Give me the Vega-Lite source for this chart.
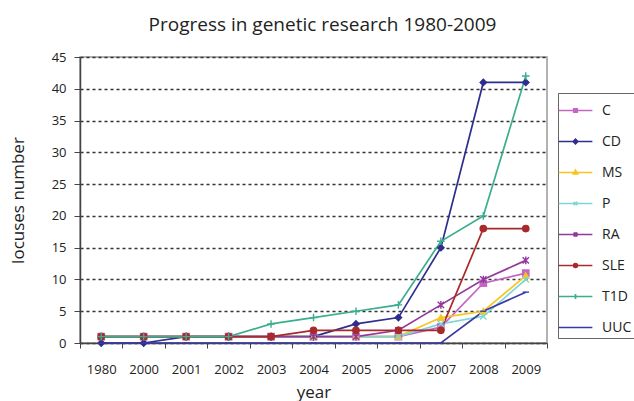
{
  "$schema": "https://vega.github.io/schema/vega-lite/v6.json",
  "width": 467,
  "height": 286,
  "autosize": "none",
  "padding": {"left": 80, "top": 57, "right": 87, "bottom": 58},
  "background": "white",
  "title": {"text": "Progress in genetic research 1980-2009", "fontSize": 19, "font": "Open Sans", "fontWeight": "normal", "color": "#222", "anchor": "middle", "offset": 16, "dx": 9},
  "config": {
    "font": "Open Sans",
    "view": {"stroke": "#999", "strokeWidth": 1.5},
    "axis": {"labelFont": "Open Sans", "titleFont": "Open Sans", "labelFontSize": 13, "titleFontSize": 17, "titleFontWeight": "normal", "labelColor": "#222", "titleColor": "#222", "domainColor": "#444", "tickColor": "#444", "domainWidth": 1.5},
    "point": {"filled": true, "size": 40, "opacity": 1, "strokeWidth": 1.4}
  },
  "data": {"values": [
    {"year": "1980", "disease": "C", "value": 1}, {"year": "2000", "disease": "C", "value": 1}, {"year": "2001", "disease": "C", "value": 1}, {"year": "2002", "disease": "C", "value": 1}, {"year": "2003", "disease": "C", "value": 1}, {"year": "2004", "disease": "C", "value": 1}, {"year": "2005", "disease": "C", "value": 1}, {"year": "2006", "disease": "C", "value": 1}, {"year": "2007", "disease": "C", "value": 2.5}, {"year": "2008", "disease": "C", "value": 9.4}, {"year": "2009", "disease": "C", "value": 11},
    {"year": "1980", "disease": "CD", "value": 0}, {"year": "2000", "disease": "CD", "value": 0}, {"year": "2001", "disease": "CD", "value": 1}, {"year": "2002", "disease": "CD", "value": 1}, {"year": "2003", "disease": "CD", "value": 1}, {"year": "2004", "disease": "CD", "value": 1}, {"year": "2005", "disease": "CD", "value": 3}, {"year": "2006", "disease": "CD", "value": 4}, {"year": "2007", "disease": "CD", "value": 15}, {"year": "2008", "disease": "CD", "value": 41}, {"year": "2009", "disease": "CD", "value": 41},
    {"year": "1980", "disease": "MS", "value": 1}, {"year": "2000", "disease": "MS", "value": 1}, {"year": "2001", "disease": "MS", "value": 1}, {"year": "2002", "disease": "MS", "value": 1}, {"year": "2003", "disease": "MS", "value": 1}, {"year": "2004", "disease": "MS", "value": 1}, {"year": "2005", "disease": "MS", "value": 1}, {"year": "2006", "disease": "MS", "value": 1}, {"year": "2007", "disease": "MS", "value": 4}, {"year": "2008", "disease": "MS", "value": 5}, {"year": "2009", "disease": "MS", "value": 10.6},
    {"year": "1980", "disease": "P", "value": 1}, {"year": "2000", "disease": "P", "value": 1}, {"year": "2001", "disease": "P", "value": 1}, {"year": "2002", "disease": "P", "value": 1}, {"year": "2003", "disease": "P", "value": 1}, {"year": "2004", "disease": "P", "value": 1}, {"year": "2005", "disease": "P", "value": 1}, {"year": "2006", "disease": "P", "value": 1}, {"year": "2007", "disease": "P", "value": 3}, {"year": "2008", "disease": "P", "value": 4.2}, {"year": "2009", "disease": "P", "value": 10},
    {"year": "1980", "disease": "RA", "value": 1}, {"year": "2000", "disease": "RA", "value": 1}, {"year": "2001", "disease": "RA", "value": 1}, {"year": "2002", "disease": "RA", "value": 1}, {"year": "2003", "disease": "RA", "value": 1}, {"year": "2004", "disease": "RA", "value": 1}, {"year": "2005", "disease": "RA", "value": 1}, {"year": "2006", "disease": "RA", "value": 2}, {"year": "2007", "disease": "RA", "value": 6}, {"year": "2008", "disease": "RA", "value": 10}, {"year": "2009", "disease": "RA", "value": 13},
    {"year": "1980", "disease": "SLE", "value": 1}, {"year": "2000", "disease": "SLE", "value": 1}, {"year": "2001", "disease": "SLE", "value": 1}, {"year": "2002", "disease": "SLE", "value": 1}, {"year": "2003", "disease": "SLE", "value": 1}, {"year": "2004", "disease": "SLE", "value": 2}, {"year": "2005", "disease": "SLE", "value": 2}, {"year": "2006", "disease": "SLE", "value": 2}, {"year": "2007", "disease": "SLE", "value": 2}, {"year": "2008", "disease": "SLE", "value": 18}, {"year": "2009", "disease": "SLE", "value": 18},
    {"year": "1980", "disease": "T1D", "value": 1}, {"year": "2000", "disease": "T1D", "value": 1}, {"year": "2001", "disease": "T1D", "value": 1}, {"year": "2002", "disease": "T1D", "value": 1}, {"year": "2003", "disease": "T1D", "value": 3}, {"year": "2004", "disease": "T1D", "value": 4}, {"year": "2005", "disease": "T1D", "value": 5}, {"year": "2006", "disease": "T1D", "value": 6}, {"year": "2007", "disease": "T1D", "value": 16}, {"year": "2008", "disease": "T1D", "value": 20}, {"year": "2009", "disease": "T1D", "value": 42},
    {"year": "1980", "disease": "UUC", "value": 0}, {"year": "2000", "disease": "UUC", "value": 0}, {"year": "2001", "disease": "UUC", "value": 0}, {"year": "2002", "disease": "UUC", "value": 0}, {"year": "2003", "disease": "UUC", "value": 0}, {"year": "2004", "disease": "UUC", "value": 0}, {"year": "2005", "disease": "UUC", "value": 0}, {"year": "2006", "disease": "UUC", "value": 0}, {"year": "2007", "disease": "UUC", "value": 0}, {"year": "2008", "disease": "UUC", "value": 5}, {"year": "2009", "disease": "UUC", "value": 8}
  ]},
  "encoding": {
    "x": {"field": "year", "type": "ordinal", "bandPosition": 0.5,
      "scale": {"type": "band", "paddingInner": 0, "paddingOuter": 0},
      "axis": {"title": "year", "labelAngle": 0, "tickBand": "extent", "tickSize": 5, "labelPadding": 15, "titlePadding": 8, "grid": false}},
    "y": {"field": "value", "type": "quantitative",
      "scale": {"domain": [0, 45], "nice": false, "zero": true},
      "axis": {"title": "locuses number", "values": [0, 5, 10, 15, 20, 25, 30, 35, 40, 45], "tickSize": 6, "labelPadding": 8, "titlePadding": 24, "grid": true, "gridColor": "#333", "gridDash": [3, 3], "gridWidth": 1.3}},
    "color": {"field": "disease", "type": "nominal",
      "scale": {"domain": ["C", "CD", "MS", "P", "RA", "SLE", "T1D", "UUC"], "range": ["#C466C4", "#2E2E8E", "#F7C520", "#7ED6D6", "#94389A", "#A82A2A", "#3AAE8E", "#3A3AA6"]},
      "legend": {"title": null, "orient": "none", "legendX": 478, "legendY": 36, "strokeColor": "#666", "padding": 3, "symbolSize": 729, "rowPadding": 9, "labelFontSize": 14, "labelFont": "Open Sans", "labelColor": "#222", "labelOffset": 12, "symbolType": "M-1,0L1,0",
        "encode": {"symbols": {"update": {
          "size": {"value": 729},
          "shape": {"signal": "datum.value === 'C' ? 'M-1.25,0L1.25,0M-0.13,-0.13L0.13,-0.13L0.13,0.13L-0.13,0.13Z' : datum.value === 'CD' ? 'M-1.25,0L1.25,0M-0.17,0L0,-0.17L0.17,0L0,0.17Z' : datum.value === 'MS' ? 'M-1.25,0L1.25,0M0,-0.17L0.16,0.11L-0.16,0.11Z' : datum.value === 'P' ? 'M-1.25,0L1.25,0M-0.13,-0.13L0.13,0.13M-0.13,0.13L0.13,-0.13' : datum.value === 'RA' ? 'M-1.25,0L1.25,0M-0.14,-0.14L0.14,0.14M-0.14,0.14L0.14,-0.14M0,-0.17L0,0.17' : datum.value === 'SLE' ? 'M-1.25,0L1.25,0M0.14,0A0.14,0.14 0 1,1 -0.14,0A0.14,0.14 0 1,1 0.14,0Z' : datum.value === 'T1D' ? 'M-1.25,0L1.25,0M0,-0.19L0,0.19' : 'M-1.25,0L1.25,0M-0.15,0L0.15,0'"},
          "fill": {"scale": "color", "field": "value"},
          "stroke": {"scale": "color", "field": "value"},
          "strokeWidth": {"value": 1.7},
          "opacity": {"value": 1}
        }}}
      }}
  },
  "layer": [
    {"mark": {"type": "line", "strokeWidth": 1.7}, "encoding": {"detail": {"field": "disease"}}},
    {"transform": [{"filter": "datum.disease === 'C'"}], "mark": {"type": "point", "shape": "square"}, "encoding": {"stroke": {"value": "#C466C4"}}},
    {"transform": [{"filter": "datum.disease === 'CD'"}], "mark": {"type": "point", "shape": "diamond"}, "encoding": {"stroke": {"value": "#2E2E8E"}}},
    {"transform": [{"filter": "datum.disease === 'MS'"}], "mark": {"type": "point", "shape": "triangle-up"}, "encoding": {"stroke": {"value": "#F7C520"}}},
    {"transform": [{"filter": "datum.disease === 'P'"}], "mark": {"type": "point", "shape": "M-1,-1L1,1M-1,1L1,-1"}, "encoding": {"stroke": {"value": "#7ED6D6"}}},
    {"transform": [{"filter": "datum.disease === 'RA'"}], "mark": {"type": "point", "shape": "M-1,-1L1,1M-1,1L1,-1M0,-1.2L0,1.2"}, "encoding": {"stroke": {"value": "#94389A"}}},
    {"transform": [{"filter": "datum.disease === 'SLE'"}], "mark": {"type": "point", "shape": "circle"}, "encoding": {"stroke": {"value": "#A82A2A"}}},
    {"transform": [{"filter": "datum.disease === 'T1D'"}], "mark": {"type": "point", "shape": "M-1.2,0L1.2,0M0,-1.2L0,1.2"}, "encoding": {"stroke": {"value": "#3AAE8E"}}},
    {"transform": [{"filter": "datum.disease === 'UUC'"}], "mark": {"type": "point", "shape": "M-1,0L1,0"}, "encoding": {"stroke": {"value": "#3A3AA6"}}}
  ]
}
